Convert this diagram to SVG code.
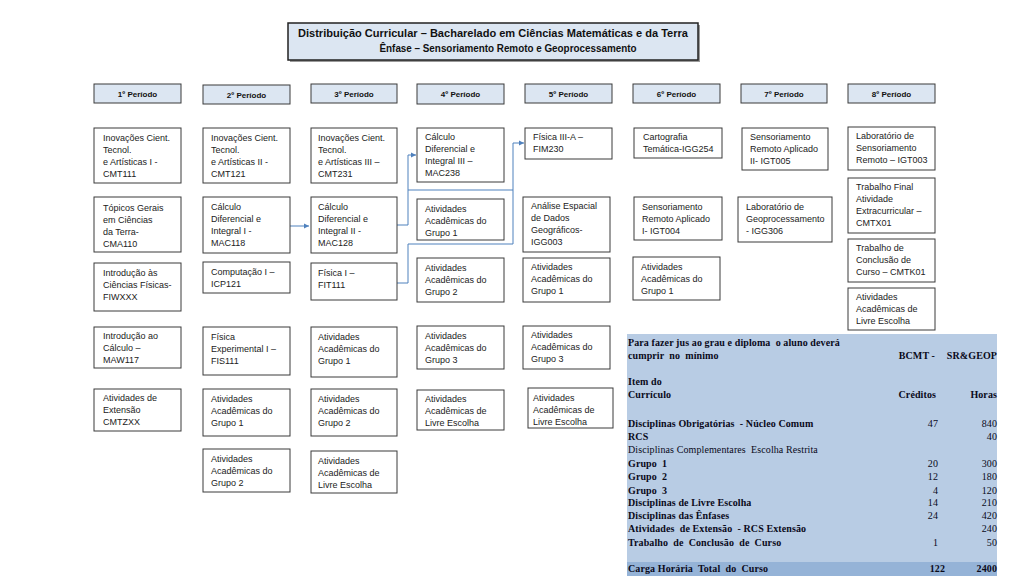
<svg xmlns="http://www.w3.org/2000/svg" width="1024" height="576" viewBox="0 0 1024 576">
<style>
.bx{fill:#fff;stroke:#3a3a3a;stroke-width:1}
.hd{fill:#dce6f2;stroke:#3a3a3a;stroke-width:1}
.t{font-family:"Liberation Sans",Arial,sans-serif;font-size:9px;fill:#222}
.ht{font-family:"Liberation Sans",Arial,sans-serif;font-size:8px;font-weight:bold;fill:#111;text-anchor:middle}
.tt{font-family:"Liberation Sans",Arial,sans-serif;font-size:10.5px;font-weight:bold;fill:#111;text-anchor:middle}
.tb{font-family:"Liberation Serif","Times New Roman",serif;font-size:10px;font-weight:bold;fill:#0a0a1a;letter-spacing:0.1px;white-space:pre}
.tn{font-family:"Liberation Serif","Times New Roman",serif;font-size:10px;fill:#0a0a1a;letter-spacing:0.1px;white-space:pre}
.r{text-anchor:end}
.cn{fill:none;stroke:#4f81bd;stroke-width:1}
</style>
<defs>
<marker id="ar" markerWidth="6" markerHeight="6" refX="5" refY="3" orient="auto" markerUnits="userSpaceOnUse">
<path d="M0,0.5 L5,3 L0,5.5 Z" fill="#4f81bd"/>
</marker>
</defs>
<rect width="1024" height="576" fill="#fff"/>

<g id="title">
<rect x="290" y="25" width="410" height="37" fill="#9a9a9a"/>
<rect x="288" y="23" width="410" height="37" fill="#dce6f2" stroke="#222" stroke-width="1.5"/>
<text class="tt" x="493" y="37" textLength="390" lengthAdjust="spacingAndGlyphs">Distribuição Curricular – Bacharelado em Ciências Matemáticas e da Terra</text>
<text class="tt" x="508" y="52" textLength="257" lengthAdjust="spacingAndGlyphs">Ênfase – Sensoriamento Remoto e Geoprocessamento</text>
</g>

<g id="headers">
<g id="h1"><rect class="hd" x="94" y="84" width="87" height="19"/><text class="ht" x="137.5" y="97">1º Período</text></g>
<g id="h2"><rect class="hd" x="203" y="85" width="87" height="19"/><text class="ht" x="246.5" y="98">2º Período</text></g>
<g id="h3"><rect class="hd" x="311" y="84" width="86" height="19"/><text class="ht" x="354" y="97">3º Período</text></g>
<g id="h4"><rect class="hd" x="417" y="84" width="87" height="20"/><text class="ht" x="460.5" y="97">4º Período</text></g>
<g id="h5"><rect class="hd" x="525" y="84" width="87" height="19"/><text class="ht" x="568.5" y="97">5º Período</text></g>
<g id="h6"><rect class="hd" x="633" y="84" width="87" height="19"/><text class="ht" x="676.5" y="97">6º Período</text></g>
<g id="h7"><rect class="hd" x="741" y="84" width="86" height="19"/><text class="ht" x="784" y="97">7º Período</text></g>
<g id="h8"><rect class="hd" x="848" y="84" width="87" height="19"/><text class="ht" x="891.5" y="97">8º Período</text></g>
</g>

<g id="connectors">
<path class="cn" d="M290,226 H309" marker-end="url(#ar)"/>
<path class="cn" d="M397,225 H408 V155 H416" marker-end="url(#ar)"/>
<path class="cn" d="M408,190 H513 V143 H524" marker-end="url(#ar)"/>
<path class="cn" d="M397,283 H408 V244 H513 V190"/>
</g>

<g id="c1r1"><rect class="bx" x="94" y="128" width="87" height="55"/><text class="t" y="141"><tspan x="103">Inovações Cient.</tspan><tspan x="103" dy="12">Tecnol.</tspan><tspan x="103" dy="12">e Artísticas I -</tspan><tspan x="103" dy="12">CMT111</tspan></text></g>
<g id="c1r2"><rect class="bx" x="94" y="197" width="87" height="55"/><text class="t" y="211"><tspan x="103">Tópicos Gerais</tspan><tspan x="103" dy="12">em Ciências</tspan><tspan x="103" dy="12">da Terra-</tspan><tspan x="103" dy="12">CMA110</tspan></text></g>
<g id="c1r3"><rect class="bx" x="94" y="263" width="87" height="48"/><text class="t" y="276"><tspan x="103">Introdução às</tspan><tspan x="103" dy="12">Ciências Físicas-</tspan><tspan x="103" dy="12">FIWXXX</tspan></text></g>
<g id="c1r4"><rect class="bx" x="94" y="327" width="87" height="41"/><text class="t" y="339"><tspan x="103">Introdução ao</tspan><tspan x="103" dy="12">Cálculo –</tspan><tspan x="103" dy="12">MAW117</tspan></text></g>
<g id="c1r5"><rect class="bx" x="94" y="389" width="87" height="42"/><text class="t" y="401"><tspan x="103">Atividades de</tspan><tspan x="103" dy="12">Extensão</tspan><tspan x="103" dy="12">CMTZXX</tspan></text></g>

<g id="c2r1"><rect class="bx" x="203" y="128" width="87" height="55"/><text class="t" y="141"><tspan x="211">Inovações Cient.</tspan><tspan x="211" dy="12">Tecnol.</tspan><tspan x="211" dy="12">e Artísticas II -</tspan><tspan x="211" dy="12">CMT121</tspan></text></g>
<g id="c2r2"><rect class="bx" x="203" y="197" width="87" height="56"/><text class="t" y="210"><tspan x="211">Cálculo</tspan><tspan x="211" dy="12">Diferencial e</tspan><tspan x="211" dy="12">Integral I -</tspan><tspan x="211" dy="12">MAC118</tspan></text></g>
<g id="c2r3"><rect class="bx" x="203" y="262" width="87" height="31"/><text class="t" y="275"><tspan x="211">Computação I –</tspan><tspan x="211" dy="12">ICP121</tspan></text></g>
<g id="c2r4"><rect class="bx" x="203" y="327" width="87" height="48"/><text class="t" y="340"><tspan x="211">Física</tspan><tspan x="211" dy="12">Experimental I –</tspan><tspan x="211" dy="12">FIS111</tspan></text></g>
<g id="c2r5"><rect class="bx" x="203" y="389" width="87" height="47"/><text class="t" y="402"><tspan x="211">Atividades</tspan><tspan x="211" dy="12">Acadêmicas do</tspan><tspan x="211" dy="12">Grupo 1</tspan></text></g>
<g id="c2r6"><rect class="bx" x="203" y="449" width="87" height="43"/><text class="t" y="462"><tspan x="211">Atividades</tspan><tspan x="211" dy="12">Acadêmicas do</tspan><tspan x="211" dy="12">Grupo 2</tspan></text></g>

<g id="c3r1"><rect class="bx" x="311" y="128" width="86" height="55"/><text class="t" y="141"><tspan x="318">Inovações Cient.</tspan><tspan x="318" dy="12">Tecnol.</tspan><tspan x="318" dy="12">e Artísticas III –</tspan><tspan x="318" dy="12">CMT231</tspan></text></g>
<g id="c3r2"><rect class="bx" x="311" y="197" width="86" height="56"/><text class="t" y="210"><tspan x="318">Cálculo</tspan><tspan x="318" dy="12">Diferencial e</tspan><tspan x="318" dy="12">Integral II -</tspan><tspan x="318" dy="12">MAC128</tspan></text></g>
<g id="c3r3"><rect class="bx" x="311" y="263" width="86" height="37"/><text class="t" y="276"><tspan x="318">Física I –</tspan><tspan x="318" dy="12">FIT111</tspan></text></g>
<g id="c3r4"><rect class="bx" x="311" y="327" width="86" height="50"/><text class="t" y="340"><tspan x="318">Atividades</tspan><tspan x="318" dy="12">Acadêmicas do</tspan><tspan x="318" dy="12">Grupo 1</tspan></text></g>
<g id="c3r5"><rect class="bx" x="311" y="389" width="86" height="47"/><text class="t" y="402"><tspan x="318">Atividades</tspan><tspan x="318" dy="12">Acadêmicas do</tspan><tspan x="318" dy="12">Grupo 2</tspan></text></g>
<g id="c3r6"><rect class="bx" x="311" y="451" width="86" height="42"/><text class="t" y="464"><tspan x="318">Atividades</tspan><tspan x="318" dy="12">Acadêmicas de</tspan><tspan x="318" dy="12">Livre Escolha</tspan></text></g>

<g id="c4r1"><rect class="bx" x="417" y="128" width="87" height="54"/><text class="t" y="140"><tspan x="425">Cálculo</tspan><tspan x="425" dy="12">Diferencial e</tspan><tspan x="425" dy="12">Integral III –</tspan><tspan x="425" dy="12">MAC238</tspan></text></g>
<g id="c4r2"><rect class="bx" x="417" y="199" width="87" height="41"/><text class="t" y="212"><tspan x="425">Atividades</tspan><tspan x="425" dy="12">Acadêmicas do</tspan><tspan x="425" dy="12">Grupo 1</tspan></text></g>
<g id="c4r3"><rect class="bx" x="417" y="258" width="87" height="44"/><text class="t" y="271"><tspan x="425">Atividades</tspan><tspan x="425" dy="12">Acadêmicas do</tspan><tspan x="425" dy="12">Grupo 2</tspan></text></g>
<g id="c4r4"><rect class="bx" x="417" y="326" width="87" height="43"/><text class="t" y="339"><tspan x="425">Atividades</tspan><tspan x="425" dy="12">Acadêmicas do</tspan><tspan x="425" dy="12">Grupo 3</tspan></text></g>
<g id="c4r5"><rect class="bx" x="417" y="390" width="87" height="40"/><text class="t" y="402"><tspan x="425">Atividades</tspan><tspan x="425" dy="12">Acadêmicas de</tspan><tspan x="425" dy="12">Livre Escolha</tspan></text></g>

<g id="c5r1"><rect class="bx" x="525" y="128" width="87" height="31"/><text class="t" y="140"><tspan x="533">Física III-A –</tspan><tspan x="533" dy="12">FIM230</tspan></text></g>
<g id="c5r2"><rect class="bx" x="523" y="197" width="87" height="55"/><text class="t" y="209"><tspan x="531">Análise Espacial</tspan><tspan x="531" dy="12">de Dados</tspan><tspan x="531" dy="12">Geográficos-</tspan><tspan x="531" dy="12">IGG003</tspan></text></g>
<g id="c5r3"><rect class="bx" x="523" y="258" width="87" height="44"/><text class="t" y="270"><tspan x="531">Atividades</tspan><tspan x="531" dy="12">Acadêmicas do</tspan><tspan x="531" dy="12">Grupo 1</tspan></text></g>
<g id="c5r4"><rect class="bx" x="523" y="326" width="87" height="43"/><text class="t" y="338"><tspan x="531">Atividades</tspan><tspan x="531" dy="12">Acadêmicas do</tspan><tspan x="531" dy="12">Grupo 3</tspan></text></g>
<g id="c5r5"><rect class="bx" x="528" y="388" width="85" height="40"/><text class="t" y="401"><tspan x="533">Atividades</tspan><tspan x="533" dy="12">Acadêmicas de</tspan><tspan x="533" dy="12">Livre Escolha</tspan></text></g>

<g id="c6r1"><rect class="bx" x="634" y="128" width="88" height="30"/><text class="t" y="140"><tspan x="643">Cartografia</tspan><tspan x="643" dy="12">Temática-IGG254</tspan></text></g>
<g id="c6r2"><rect class="bx" x="634" y="197" width="88" height="43"/><text class="t" y="210"><tspan x="642">Sensoriamento</tspan><tspan x="642" dy="12">Remoto Aplicado</tspan><tspan x="642" dy="12">I- IGT004</tspan></text></g>
<g id="c6r3"><rect class="bx" x="633" y="257" width="87" height="43"/><text class="t" y="270"><tspan x="641">Atividades</tspan><tspan x="641" dy="12">Acadêmicas do</tspan><tspan x="641" dy="12">Grupo 1</tspan></text></g>

<g id="c7r1"><rect class="bx" x="742" y="128" width="86" height="42"/><text class="t" y="140"><tspan x="750">Sensoriamento</tspan><tspan x="750" dy="12">Remoto Aplicado</tspan><tspan x="750" dy="12">II- IGT005</tspan></text></g>
<g id="c7r2"><rect class="bx" x="738" y="197" width="94" height="45"/><text class="t" y="210"><tspan x="746">Laboratório de</tspan><tspan x="746" dy="12">Geoprocessamento</tspan><tspan x="746" dy="12">- IGG306</tspan></text></g>

<g id="c8r1"><rect class="bx" x="848" y="127" width="87" height="43"/><text class="t" y="139"><tspan x="856">Laboratório de</tspan><tspan x="856" dy="12">Sensoriamento</tspan><tspan x="856" dy="12">Remoto – IGT003</tspan></text></g>
<g id="c8r2"><rect class="bx" x="848" y="178" width="87" height="55"/><text class="t" y="190"><tspan x="856">Trabalho Final</tspan><tspan x="856" dy="12">Atividade</tspan><tspan x="856" dy="12">Extracurricular –</tspan><tspan x="856" dy="12">CMTX01</tspan></text></g>
<g id="c8r3"><rect class="bx" x="848" y="239" width="87" height="43"/><text class="t" y="251"><tspan x="856">Trabalho de</tspan><tspan x="856" dy="12">Conclusão de</tspan><tspan x="856" dy="12">Curso – CMTK01</tspan></text></g>
<g id="c8r4"><rect class="bx" x="848" y="288" width="87" height="42"/><text class="t" y="300"><tspan x="856">Atividades</tspan><tspan x="856" dy="12">Acadêmicas de</tspan><tspan x="856" dy="12">Livre Escolha</tspan></text></g>

<g id="table">
<rect x="627" y="334" width="370" height="242" fill="#b8cce4"/>
<rect x="627" y="562" width="370" height="14" fill="#95b3d7"/>
<text class="tb" x="628" y="346">Para fazer jus ao grau e diploma  o aluno deverá</text>
<text class="tb" x="628" y="359">cumprir  no  mínimo</text>
<text class="tb r" x="935" y="359">BCMT -</text>
<text class="tb r" x="997" y="359">SR&amp;GEOP</text>
<text class="tb" x="628" y="385">Item do</text>
<text class="tb" x="628" y="398">Currículo</text>
<text class="tb r" x="936" y="398">Créditos</text>
<text class="tb r" x="997" y="398">Horas</text>
<text class="tb" x="628" y="427">Disciplinas Obrigatórias  - Núcleo Comum</text>
<text class="tn r" x="938" y="427">47</text><text class="tn r" x="997" y="427">840</text>
<text class="tb" x="628" y="440">RCS</text>
<text class="tn r" x="997" y="440">40</text>
<text class="tn" x="628" y="453">Disciplinas Complementares  Escolha Restrita</text>
<text class="tb" x="628" y="467">Grupo  1</text>
<text class="tn r" x="938" y="467">20</text><text class="tn r" x="997" y="467">300</text>
<text class="tb" x="628" y="480">Grupo  2</text>
<text class="tn r" x="938" y="480">12</text><text class="tn r" x="997" y="480">180</text>
<text class="tb" x="628" y="494">Grupo  3</text>
<text class="tn r" x="938" y="494">4</text><text class="tn r" x="997" y="494">120</text>
<text class="tb" x="628" y="506">Disciplinas de Livre Escolha</text>
<text class="tn r" x="938" y="506">14</text><text class="tn r" x="997" y="506">210</text>
<text class="tb" x="628" y="519">Disciplinas das Ênfases</text>
<text class="tn r" x="938" y="519">24</text><text class="tn r" x="997" y="519">420</text>
<text class="tb" x="628" y="532">Atividades  de Extensão  - RCS Extensão</text>
<text class="tn r" x="997" y="532">240</text>
<text class="tb" x="628" y="546">Trabalho  de  Conclusão  de  Curso</text>
<text class="tn r" x="938" y="546">1</text><text class="tn r" x="997" y="546">50</text>
<text class="tb" x="628" y="572">Carga Horária  Total  do  Curso</text>
<text class="tb r" x="945" y="572">122</text><text class="tb r" x="997" y="572">2400</text>
</g>
</svg>
